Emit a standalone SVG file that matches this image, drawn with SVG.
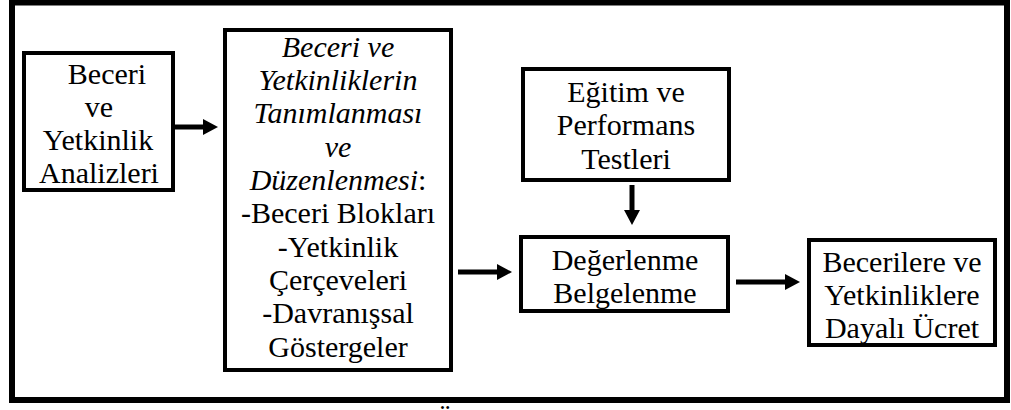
<svg xmlns="http://www.w3.org/2000/svg" width="1011" height="410" viewBox="0 0 1011 410">
<style>
.box{fill:#fff;stroke:#000;stroke-width:4}
.t{font-family:"Liberation Serif","Times New Roman",serif;font-size:30px;fill:#000;text-anchor:middle}
.i{font-style:italic}
.c{stroke:#000;stroke-width:5;fill:none}
</style>
<defs>
<marker id="ah" markerUnits="userSpaceOnUse" markerWidth="16" markerHeight="17" refX="0" refY="8.5" orient="auto">
<path d="M0,0.5 L15,8.5 L0,16.5 z" fill="#000"/>
</marker>
</defs>
<rect x="0" y="0" width="1011" height="410" fill="#fff"/>
<rect id="frame" x="12" y="2.5" width="995" height="397.5" fill="none" stroke="#000" stroke-width="6"/>
<g id="n1">
<rect class="box" x="24" y="53" width="149" height="137"/>
<text class="t" x="107" y="84">Beceri</text>
<text class="t" x="99" y="117">ve</text>
<text class="t" x="98" y="150">Yetkinlik</text>
<text class="t" x="99" y="183">Analizleri</text>
</g>
<g id="n2">
<rect class="box" x="225" y="30" width="226" height="340"/>
<text class="t i" x="338" y="57">Beceri ve</text>
<text class="t i" x="338" y="90">Yetkinliklerin</text>
<text class="t i" x="338" y="123">Tanımlanması</text>
<text class="t i" x="338" y="157">ve</text>
<text class="t" x="338" y="190"><tspan class="i">Düzenlenmesi</tspan>:</text>
<text class="t" x="338" y="223">-Beceri Blokları</text>
<text class="t" x="338" y="257">-Yetkinlik</text>
<text class="t" x="338" y="290">Çerçeveleri</text>
<text class="t" x="338" y="323">-Davranışsal</text>
<text class="t" x="338" y="357">Göstergeler</text>
</g>
<g id="n3">
<rect class="box" x="523" y="69" width="206" height="111"/>
<text class="t" x="626" y="102">Eğitim ve</text>
<text class="t" x="626" y="135">Performans</text>
<text class="t" x="626" y="169">Testleri</text>
</g>
<g id="n4">
<rect class="box" x="521" y="237" width="207" height="74"/>
<text class="t" x="625" y="270">Değerlenme</text>
<text class="t" x="625" y="303">Belgelenme</text>
</g>
<g id="n5">
<rect class="box" x="809" y="240" width="186" height="105"/>
<text class="t" x="902" y="272">Becerilere ve</text>
<text class="t" x="902" y="305">Yetkinliklere</text>
<text class="t" x="902" y="338">Dayalı Ücret</text>
</g>
<g id="connectors">
<line class="c" x1="175" y1="127" x2="203" y2="127" marker-end="url(#ah)"/>
<line class="c" x1="458" y1="272" x2="497" y2="272" marker-end="url(#ah)"/>
<line class="c" x1="632" y1="185" x2="632" y2="210" marker-end="url(#ah)"/>
<line class="c" x1="736" y1="282" x2="785" y2="282" marker-end="url(#ah)"/>
</g>
<text class="t" x="445" y="430">Ü</text>
</svg>
